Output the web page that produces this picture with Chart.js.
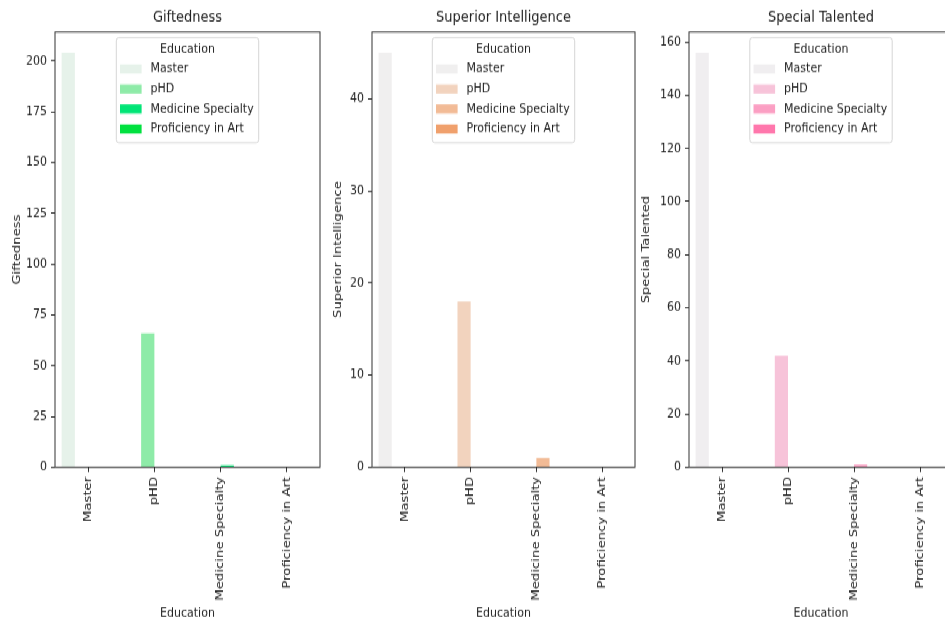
<!DOCTYPE html>
<html><head><meta charset="utf-8">
<script src="https://cdn.jsdelivr.net/npm/chart.js@4"></script>
<style>
html,body{margin:0;padding:0;background:#fff;overflow:hidden;width:945px;height:626px}
#stage{position:absolute;left:0;top:0;width:960px;height:522px;transform:scaleY(1.2);transform-origin:0 0;}
canvas{position:absolute;top:0}
</style></head><body>
<div id="stage">
<canvas id="c1" width="330" height="522" style="left:0px"></canvas>
<canvas id="c2" width="320" height="522" style="left:325px"></canvas>
<canvas id="c3" width="330" height="522" style="left:630px"></canvas>
</div>
<script>
const categories = ['Master', 'pHD', 'Medicine Specialty', 'Proficiency in Art'];
const giftedness = [204, 66, 1, 0];
const superiorIntelligence = [45, 18, 1, 0];
const specialTalented = [156, 42, 1, 0];
const giftednessTicks = [0, 25, 50, 75, 100, 125, 150, 175, 200];
const superiorTicks = [0, 10, 20, 30, 40];
const specialTicks = [0, 20, 40, 60, 80, 100, 120, 140, 160];
const greenColors = ['#e6f2ea', '#8eeba8', '#00e576', '#00e13f'];
const orangeColors = ['#f0efef', '#f2d3be', '#f2bb96', '#f0a06c'];
const pinkColors = ['#f0eef0', '#f7c3d9', '#fb9fc3', '#ff77ac'];

Chart.defaults.font.family = '"DejaVu Sans", sans-serif';
Chart.defaults.color = '#222';

const frame = {
  id: 'frame',
  afterDatasetsDraw(chart) {
    const {ctx, chartArea: a} = chart;
    ctx.save();
    ctx.strokeStyle = '#333';
    ctx.lineWidth = 1;
    ctx.strokeRect(a.left, a.top, a.width, a.height);
    ctx.restore();
  }
};

const eduLegend = {
  id: 'eduLegend',
  afterDraw(chart) {
    const {ctx, chartArea: a} = chart;
    const ds = chart.data.datasets;
    ctx.save();
    ctx.font = '11px "DejaVu Sans"';
    const tw = Math.max(ctx.measureText('Education').width, ...ds.map(d => ctx.measureText(d.label).width));
    const patchW = 21.6, patchH = 7.5, padL = 3.7, gap = 9, padR = 5;
    const w = padL + patchW + gap + tw + padR;
    const cx = (a.left + a.right) / 2;
    const x0 = cx - w / 2, y0 = a.top + 4.7, h = 87.5;
    ctx.beginPath();
    ctx.roundRect(x0, y0, w, h, 2.5);
    ctx.fillStyle = 'rgba(255,255,255,0.8)';
    ctx.fill();
    ctx.strokeStyle = '#d6d6d6';
    ctx.lineWidth = 1;
    ctx.stroke();
    ctx.fillStyle = '#222';
    ctx.textBaseline = 'middle';
    ctx.textAlign = 'center';
    ctx.fillText('Education', cx, y0 + 9.4);
    ctx.textAlign = 'left';
    ds.forEach((d, i) => {
      const yc = y0 + 26.1 + i * 16.67;
      ctx.fillStyle = d.backgroundColor;
      ctx.fillRect(x0 + padL, yc - patchH / 2, patchW, patchH);
      ctx.fillStyle = '#222';
      ctx.fillText(d.label, x0 + padL + patchW + gap, yc);
    });
    ctx.restore();
  }
};

function makeChart(id, title, values, colors, ticks, yTitlePad, yAxisWidth, padRight) {
  const yMax = Math.max(...values) * 1.05;
  return new Chart(document.getElementById(id), {
    type: 'bar',
    data: {
      labels: categories,
      datasets: categories.map((c, i) => ({
        label: c,
        data: categories.map((_, j) => (j === i ? values[i] : 0)),
        backgroundColor: colors[i],
        borderWidth: 0,
        categoryPercentage: 0.8,
        barPercentage: 1
      }))
    },
    options: {
      responsive: false,
      animation: false,
      devicePixelRatio: 1,
      layout: {padding: {top: 2.5, right: padRight, left: 0, bottom: 0}},
      plugins: {
        legend: {display: false},
        tooltip: {enabled: false},
        title: {display: true, text: title, fullSize: false, color: '#222',
          font: {size: 13, weight: 'normal'}, padding: {top: 4.3, bottom: 4.3}}
      },
      scales: {
        x: {
          grid: {display: true, drawOnChartArea: false, offset: false, tickLength: 4, color: '#333', lineWidth: 1},
          border: {display: false},
          ticks: {minRotation: 90, maxRotation: 90, autoSkip: false, padding: 4, color: '#222', font: {size: 11}},
          title: {display: true, text: 'Education', color: '#222', font: {size: 11}, padding: {top: 0, bottom: 4.6}},
          afterFit(s) { s.height = 132.6; }
        },
        y: {
          min: 0,
          max: yMax,
          grid: {display: true, drawOnChartArea: false, tickLength: 4, color: '#333', lineWidth: 1},
          border: {display: false},
          ticks: {padding: 4, color: '#222', font: {size: 11}},
          afterBuildTicks(s) { s.ticks = ticks.map(v => ({value: v})); },
          title: {display: true, text: title, color: '#222', font: {size: 11}, padding: {top: yTitlePad, bottom: 0}},
          afterFit(s) { s.width = yAxisWidth; }
        }
      }
    },
    plugins: [frame, eduLegend]
  });
}

makeChart('c1', 'Giftedness', giftedness, greenColors, giftednessTicks, 10.4, 55, 10);
makeChart('c2', 'Superior Intelligence', superiorIntelligence, orangeColors, superiorTicks, 6.4, 47, 10);
makeChart('c3', 'Special Talented', specialTalented, pinkColors, specialTicks, 10, 59, 7);
</script>
</body></html>
